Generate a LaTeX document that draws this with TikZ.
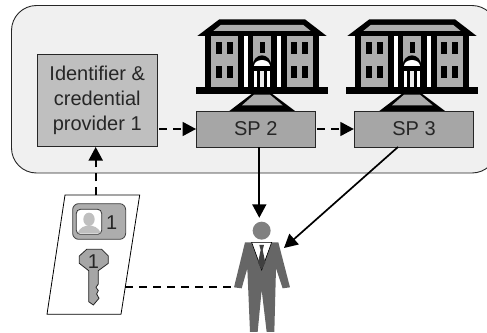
\documentclass[tikz,border=0pt]{standalone}
\usepackage{fontspec}
\setmainfont{Liberation Sans}
\usetikzlibrary{arrows.meta}
\tikzset{
  boxA/.style={draw=black!85,line width=0.9pt,fill=#1,inner sep=0pt,align=center,font=\fontsize{20}{25}\selectfont,text=black!85},
  conn/.style={line width=1.7pt,-{Triangle[length=13.5pt,width=14pt]}},
  dconn/.style={conn,dash pattern=on 8pt off 6pt,shorten <=2pt},
  blk/.style={fill=black,draw=none},
  wht/.style={fill=white,draw=none},
  gry/.style={fill=black!32,draw=none},
  pics/building/.style={code={
    \begin{scope}[x=0.3333pt,y=-0.3333pt]
    \path[blk] (118,58)--(375,58)--(440,108)--(52,108)--cycle;
    \path[gry] (122,75)--(370,75)--(392,93)--(100,93)--cycle;
    \path[blk] (75,108) rectangle (417,262);
    \path[blk] (48,262) rectangle (443,282);
    \path[gry] (93,108) rectangle (175,262);
    \path[gry] (320,108) rectangle (400,262);
    \path[wht] (193,108) rectangle (204,262);
    \path[wht] (291,108) rectangle (302,262);
    \path[gry] (220,108) rectangle (272,262);
    \foreach \wx in {108,140,333,366}{
      \path[blk] (\wx,125) rectangle ++(18,37);
      \path[blk] (\wx,197) rectangle ++(18,37);
    }
    \path[blk] (240,125) rectangle (255,158);
    \path[blk] (218,198) arc (180:360:28 and 32) -- (274,262) -- (218,262) -- cycle;
    \path[wht] (222,198) arc (180:360:24 and 18) -- cycle;
    \path[wht] (222,213) rectangle (232,262);
    \path[fill=black!8] (240,213) rectangle (252,262);
    \path[wht] (260,213) rectangle (270,262);
    \path[blk] (215,282)--(277,282)--(345,333)--(148,333)--cycle;
    \path[gry] (222,284)--(270,284)--(308,316)--(186,316)--cycle;
    \end{scope}
  }},
}
\begin{document}
\begin{tikzpicture}[x=1pt,y=-1pt]
\clip (0,0) rectangle (487,332);
\draw[draw=black!85,line width=0.9pt,fill=black!6,rounded corners=25pt] (11.5,5.5) rectangle (497,173);
\node[boxA=black!25,minimum width=119.5pt,minimum height=92.5pt] (provider) at (97.25,100.5) {Identifier \&\\credential\\provider 1};
\node[boxA=black!35,minimum width=118.5pt,minimum height=36pt] (sp2) at (255.75,129) {SP 2};
\node[boxA=black!35,minimum width=119.5pt,minimum height=36pt] (sp3) at (414,129) {SP 3};
\pic at (180,0) {building};
\pic at (330,0) {building};
% card
\node[minimum width=93pt,minimum height=119pt,inner sep=0pt] (card) at (93.5,255) {};
\draw[line width=0.8pt,fill=white] (65,195)--(139.7,195)--(121,314.3)--(47,314.3)--cycle;
\begin{scope}[shift={(30,180)},x=0.3333pt,y=-0.3333pt]
\draw[line width=0.8pt,draw=black!75,fill=black!32,rounded corners=6pt] (128,71) rectangle (287,178);
\draw[line width=0.8pt,draw=black!80,fill=white,rounded corners=4pt] (139,88) rectangle (215,163);
\path[fill=black!25] (177,118) circle[x radius=17,y radius=20];
\path[fill=black!25] (143,160) .. controls (150,140) and (165,138) .. (177,136) .. controls (190,138) and (205,140) .. (212,160) -- cycle;
\node[font=\fontsize{20}{24}\selectfont,text=black!85,inner sep=0pt] (badgeno) at (245,127) {1};
\draw[line width=0.8pt,draw=black!85,fill=black!35] (170,208)--(215,208)--(235,228)--(235,250)--(205,272)--(205,312)--(198,322)--(205,332)--(200,342)--(207,355)--(190,375)--(176,365)--(176,272)--(148,250)--(148,228)--cycle;
\node[font=\fontsize{20}{24}\selectfont,text=black!85,inner sep=0pt] (keyno) at (190,245) {1};
\end{scope}
% person
\begin{scope}[shift={(210,200)},x=0.3333pt,y=-0.3333pt]
\path[fill=black!50] (155,92) circle[radius=27];
\path[fill=black!60] (105,127)--(205,127)--(240,262)--(218,265)--(198,205)--(193,396)--(170,396)--(155,270)--(143,396)--(120,396)--(112,205)--(95,265)--(72,262)--cycle;
\path[wht] (125,127)--(185,127)--(155,205)--cycle;
\path[draw=black,line width=0.6pt] (125,127)--(155,210)--(185,127)--cycle;
\path[fill=black!75] (148,135)--(162,135)--(158,150)--(166,188)--(155,208)--(144,188)--(152,150)--cycle;
\end{scope}
\node[minimum width=54pt,minimum height=114pt,inner sep=0pt] (person) at (259.3,275) {};
% connectors
\draw[dconn] (provider.east |- sp2.west) -- (sp2.west);
\draw[dconn] (sp2.east) -- (sp3.west);
\draw[conn] (sp2.south -| person.north) -- (person.north);
\coordinate (pa) at (284,248);
\coordinate (sp3out) at (398,147);
\draw[conn] (sp3out) -- (pa);
\coordinate (provin) at (95.7,147);
\draw[conn,dash pattern=on 8pt off 6pt] (provin |- card.north) -- (provin);
\coordinate (cardr) at (125,287);
\coordinate (pl) at (233,287);
\draw[line width=1.7pt,dash pattern=on 8pt off 6pt] (cardr) -- (pl);
\end{tikzpicture}
\end{document}
